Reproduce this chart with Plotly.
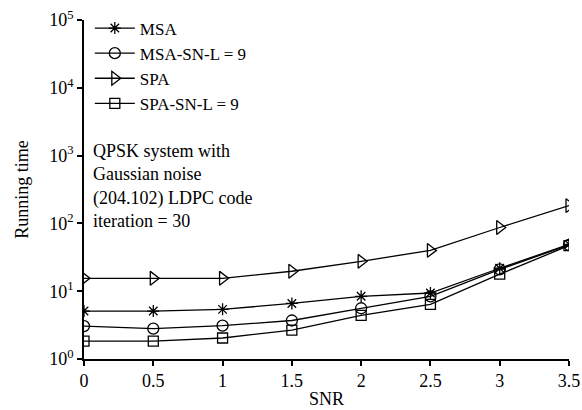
import plotly.graph_objects as go

snr = [0, 0.5, 1, 1.5, 2, 2.5, 3, 3.5]
msa = [5.1, 5.1, 5.4, 6.6, 8.4, 9.4, 21.8, 49]
msa_sn = [3.06, 2.8, 3.1, 3.7, 5.6, 8.4, 21, 48]
spa = [15.5, 15.5, 15.5, 19.7, 27.6, 40, 87, 183]
spa_sn = [1.84, 1.84, 2.04, 2.67, 4.4, 6.4, 17.8, 47]

names = ["MSA", "MSA-SN-L = 9", "SPA", "SPA-SN-L = 9"]
series = [msa, msa_sn, spa, spa_sn]
symbols = ["asterisk-open", "circle-open", "triangle-right-open", "square-open"]
sizes = [10, 11, 12, 10]

xtickvals = [0, 0.5, 1, 1.5, 2, 2.5, 3, 3.5]
xticktext = ["0", "0.5", "1", "1.5", "2", "2.5", "3", "3.5"]
ytickvals = [1, 10, 100, 1000, 10000, 100000]
yticktext = ["10<sup>0</sup>", "10<sup>1</sup>", "10<sup>2</sup>", "10<sup>3</sup>", "10<sup>4</sup>", "10<sup>5</sup>"]

fig = go.Figure()
for n, s, sym, sz in zip(names, series, symbols, sizes):
    fig.add_trace(go.Scatter(
        x=snr, y=s, name=n, mode="lines+markers",
        line=dict(color="black", width=1.3),
        marker=dict(symbol=sym, size=sz, color="black", line=dict(width=1.3, color="black")),
    ))

font = dict(family="Liberation Serif", size=18, color="black")
legfont = dict(family="Liberation Serif", size=17, color="black")
fig.update_layout(
    width=582, height=410,
    margin=dict(l=84, r=13, t=19, b=51),
    paper_bgcolor="white", plot_bgcolor="white",
    font=font,
    showlegend=True,
    legend=dict(x=0.012, y=1.025, xanchor="left", yanchor="top", bgcolor="rgba(0,0,0,0)",
                font=legfont, tracegroupgap=0, itemwidth=40),
    xaxis=dict(range=[0, 3.5], tickvals=xtickvals, ticktext=xticktext, automargin=False,
               showline=True, linecolor="black", linewidth=1.5, ticks="outside", ticklen=5,
               tickcolor="black", tickwidth=1.5, showgrid=False, zeroline=False,
               title=dict(text="SNR", font=font, standoff=2)),
    yaxis=dict(type="log", range=[0, 5], tickvals=ytickvals, ticktext=yticktext, automargin=False,
               showline=True, linecolor="black", linewidth=1.5, ticks="outside", ticklen=5,
               tickcolor="black", tickwidth=1.5, showgrid=False, zeroline=False,
               title=dict(text="Running time", font=font, standoff=16)),
    annotations=[dict(
        xref="paper", yref="paper", x=0.015, y=0.65, xanchor="left", yanchor="top",
        align="left", showarrow=False, font=font,
        text="QPSK system with<br>Gaussian noise<br>(204.102) LDPC code<br>iteration = 30",
    )],
)

fig.write_html("out.html", post_script="document.body.style.margin='0px';",
               config={"displayModeBar": False})
